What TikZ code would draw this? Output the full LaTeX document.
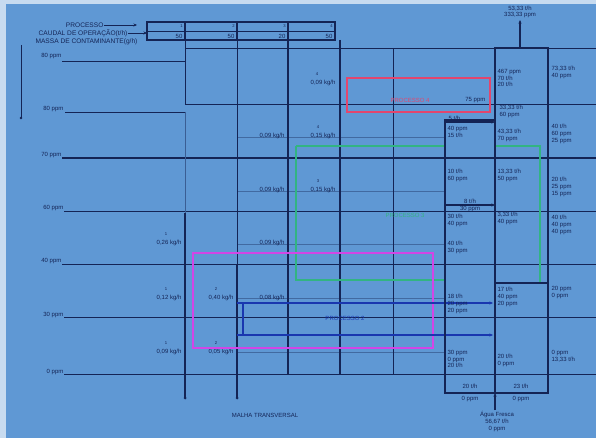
\documentclass[tikz,border=0pt]{standalone}
\usepackage{fontspec}
\setmainfont{Liberation Sans}
\usetikzlibrary{arrows.meta}
\definecolor{bg}{RGB}{95,152,212}
\definecolor{ln}{RGB}{20,36,85}
\definecolor{redr}{RGB}{226,70,110}
\definecolor{grn}{RGB}{50,180,130}
\definecolor{mag}{RGB}{210,70,230}
\definecolor{blu}{RGB}{25,55,175}
\begin{document}
\begin{tikzpicture}[x=1pt,y=-1pt,
  lab/.style={font=\fontsize{6}{6.6}\selectfont, text=ln, inner sep=0.4pt, align=left},
  hdr/.style={font=\fontsize{6.6}{7}\selectfont, text=ln, inner sep=0.4pt},
  tiny/.style={font=\fontsize{4.2}{4.6}\selectfont, text=ln, inner sep=0.2pt},
  thin/.style={draw=ln, line width=0.7pt},
  med/.style={draw=ln, line width=1.1pt},
  thick/.style={draw=ln, line width=1.8pt},
  arr/.style={-{Stealth[length=3.5pt,width=3pt]}}]
\useasboundingbox (0,0) rectangle (596,438);
\fill[bg!35!white] (0,0) rectangle (596,438);
\fill[bg] (6,4) rectangle (596,438);

% header
\node[hdr, anchor=east] (h1) at (104,25) {PROCESSO};
\node[hdr, anchor=east] (h2) at (128,33) {CAUDAL DE OPERAÇÃO(t/h)};
\node[hdr, anchor=east] (h3) at (138,42) {MASSA DE CONTAMINANTE(g/h)};
\coordinate (h1e) at (137,25);
\coordinate (h2e) at (147,33);
\draw[thin, arr] (h1) -- (h1e);
\draw[thin, arr] (h2.east) -- (h2e);
\draw[med] (147,22) rectangle (335,40);
\draw[thin] (147,31) -- (335,31);
\foreach \x in {185,237,288} \draw[med] (\x,22) -- (\x,40);
\node[tiny, anchor=east] (p1) at (183,26) {1};
\node[tiny, anchor=east] (p2) at (235,26) {2};
\node[tiny, anchor=east] (p3) at (286,26) {3};
\node[tiny, anchor=east] (p4) at (333,26) {4};
\node[lab, anchor=east] (q1) at (183,36) {50};
\node[lab, anchor=east] (q2) at (235,36) {50};
\node[lab, anchor=east] (q3) at (286,36) {20};
\node[lab, anchor=east] (q4) at (333,36) {50};

% left vertical with dot
\draw[thin] (21,45) -- (21,118);
\fill[ln] (21,118) circle (1.3pt);

% level lines and labels
\node[lab, anchor=east] (l1) at (62,56) {80 ppm};
\node[lab, anchor=east] (l2) at (64,109) {80 ppm};
\node[lab, anchor=east] (l3) at (62,155) {70 ppm};
\node[lab, anchor=east] (l4) at (64,208) {60 ppm};
\node[lab, anchor=east] (l5) at (62,261) {40 ppm};
\node[lab, anchor=east] (l6) at (64,315) {30 ppm};
\node[lab, anchor=east] (l7) at (64,372) {0 ppm};
\draw[thin] (62,61) -- (185,61) -- (185,104) -- (596,104);
\draw[thin] (65,112) -- (185,112);
\draw[med] (62,158) -- (596,158);
\draw[thin] (64,211) -- (596,211);
\draw[thin] (62,264) -- (596,264);
\draw[thin] (64,317) -- (596,317);
\draw[thin] (64,374) -- (596,374);
\draw[thin] (185,48) -- (596,48);

% faint row lines
\foreach \y in {137,191,244,298,352}
  \draw[ln!40!bg, line width=0.5pt] (237,\y) -- (445,\y);

% process verticals
\draw[thin] (185,40) -- (185,61);
\draw[thin, ln!50!bg] (185,112) -- (185,213);
\draw[thick] (185,213) -- (185,398);
\fill[ln] (185,398) circle (1.5pt);
\draw[thin] (237,40) -- (237,265);
\draw[thick] (237,265) -- (237,398);
\fill[ln] (237,398) circle (1.5pt);
\draw[thick] (288,40) -- (288,374);
\draw[med] (340,40) -- (340,374);
\draw[thin] (393,48) -- (393,374);

% kg/h labels
\node[lab, anchor=east] (k1) at (285,136) {0,09 kg/h};
\node[lab, anchor=east] (k2) at (336,136) {0,15 kg/h};
\node[lab, anchor=east] (k3) at (285,190) {0,09 kg/h};
\node[lab, anchor=east] (k4) at (336,190) {0,15 kg/h};
\node[lab, anchor=east] (k5) at (285,243) {0,09 kg/h};
\node[lab, anchor=east] (k6) at (182,243) {0,26 kg/h};
\node[lab, anchor=east] (k7) at (182,298) {0,12 kg/h};
\node[lab, anchor=east] (k8) at (234,298) {0,40 kg/h};
\node[lab, anchor=east] (k9) at (285,298) {0,08 kg/h};
\node[lab, anchor=east] (k10) at (182,352) {0,09 kg/h};
\node[lab, anchor=east] (k11) at (234,352) {0,05 kg/h};
\node[lab, anchor=east] (k12) at (336,83) {0,09 kg/h};
\node[tiny] (t12) at (317,74) {4};
\node[tiny] (t2) at (318,127) {4};
\node[tiny] (t4) at (318,181) {3};
\node[tiny] (t6) at (166,234) {1};
\node[tiny] (t7) at (166,289) {1};
\node[tiny] (t8) at (216,289) {2};
\node[tiny] (t10) at (166,343) {1};
\node[tiny] (t11) at (216,343) {2};

% coloured process rectangles
\draw[redr, line width=2pt] (347,78) rectangle (490,112);
\node[lab, text=redr] (r4) at (410,100) {PROCESSO 4};
\node[lab, anchor=east] (r4b) at (486,100) {75 ppm};

\draw[grn, line width=1.3pt] (296,146) -- (445,146);
\draw[grn, line width=1.3pt] (296,146) -- (296,280) -- (445,280);
\draw[grn, line width=1.3pt] (495,146) -- (540,146) -- (540,283) -- (495,283);
\node[lab, text=grn] (g3) at (405,215) {PROCESSO 3};

\draw[mag, line width=1.6pt] (193,253) rectangle (433,348);

\draw[blu, line width=1.5pt] (243,303) -- (243,335);
\draw[blu, line width=1.1pt] (237,303) -- (243,303);
\draw[blu, line width=1.1pt] (237,335) -- (243,335);
\coordinate (bt) at (493,303);
\coordinate (bb) at (493,335);
\draw[blu, line width=1.5pt, arr] (243,303) -- (bt);
\draw[blu, line width=1.5pt, arr] (243,335) -- (bb);
\node[lab, text=blu] (b2) at (345,318) {PROCESSO 2};

% mixing boxes
\draw[thick] (445,120) rectangle (495,393);
\draw[thick] (495,48) rectangle (548,393);
\coordinate (a1) at (495,122);
\coordinate (a2) at (495,205);
\coordinate (a3) at (548,283);
\draw[thick, arr] (445,122) -- (a1);
\draw[thick, arr] (445,205) -- (a2);
\draw[thick] (495,283) -- (a3);

% top outlet
\coordinate (topo) at (520,20);
\draw[thick, arr] (520,48) -- (topo);
\node[lab, align=center] (out) at (520,12) {53,33 t/h\\333,33 ppm};
% bottom inlet
\coordinate (fw) at (495,393);
\draw[med, arr] (495,410) -- (fw);
\node[lab, align=center, anchor=north] (fresh) at (497,411) {Água Fresca\\56,67 t/h\\0 ppm};

% texts in box B
\node[lab, anchor=north west] (bA) at (497,69) {467 ppm\\70 t/h\\20 t/h};
\node[lab, anchor=north west] (bB) at (551,66) {73,33 t/h\\40 ppm};
\node[lab, anchor=north west] (bC) at (499,105) {33,33 t/h\\60 ppm};
\node[lab, anchor=north west] (bD) at (497,129) {43,33 t/h\\70 ppm};
\node[lab, anchor=north west] (bE) at (551,124) {40 t/h\\60 ppm\\25 ppm};
\node[lab, anchor=north west] (bF) at (497,169) {13,33 t/h\\50 ppm};
\node[lab, anchor=north west] (bG) at (551,177) {20 t/h\\25 ppm\\15 ppm};
\node[lab, anchor=north west] (bH) at (497,212) {3,33 t/h\\40 ppm};
\node[lab, anchor=north west] (bI) at (551,215) {40 t/h\\40 ppm\\40 ppm};
\node[lab, anchor=north west] (bJ) at (497,287) {17 t/h\\40 ppm\\20 ppm};
\node[lab, anchor=north west] (bK) at (551,286) {20 ppm\\0 ppm};
\node[lab, anchor=north west] (bL) at (497,354) {20 t/h\\0 ppm};
\node[lab, anchor=north west] (bM) at (551,350) {0 ppm\\13,33 t/h};

% texts in box A
\node[lab, anchor=south west] (aA) at (448,121) {5 t/h};
\node[lab, anchor=north west] (aB) at (447,126) {40 ppm\\15 t/h};
\node[lab, anchor=north west] (aC) at (447,169) {10 t/h\\60 ppm};
\node[lab, anchor=south] (aD) at (470,204) {8 t/h};
\node[lab, anchor=north] (aE) at (470,206) {30 ppm};
\node[lab, anchor=north west] (aF) at (447,214) {30 t/h\\40 ppm};
\node[lab, anchor=north west] (aG) at (447,241) {40 t/h\\30 ppm};
\node[lab, anchor=north west] (aH) at (447,294) {18 t/h\\20 ppm\\20 ppm};
\node[lab, anchor=north west] (aI) at (447,350) {30 ppm\\0 ppm\\20 t/h};
\node[lab] (aJ) at (470,386) {20 t/h};
\node[lab] (aK) at (470,399) {0 ppm};
\node[lab] (bN) at (521,386) {23 t/h};
\node[lab] (bO) at (521,399) {0 ppm};

% bottom caption
\node[lab] (cap) at (265,415) {MALHA TRANSVERSAL};
\end{tikzpicture}
\end{document}
